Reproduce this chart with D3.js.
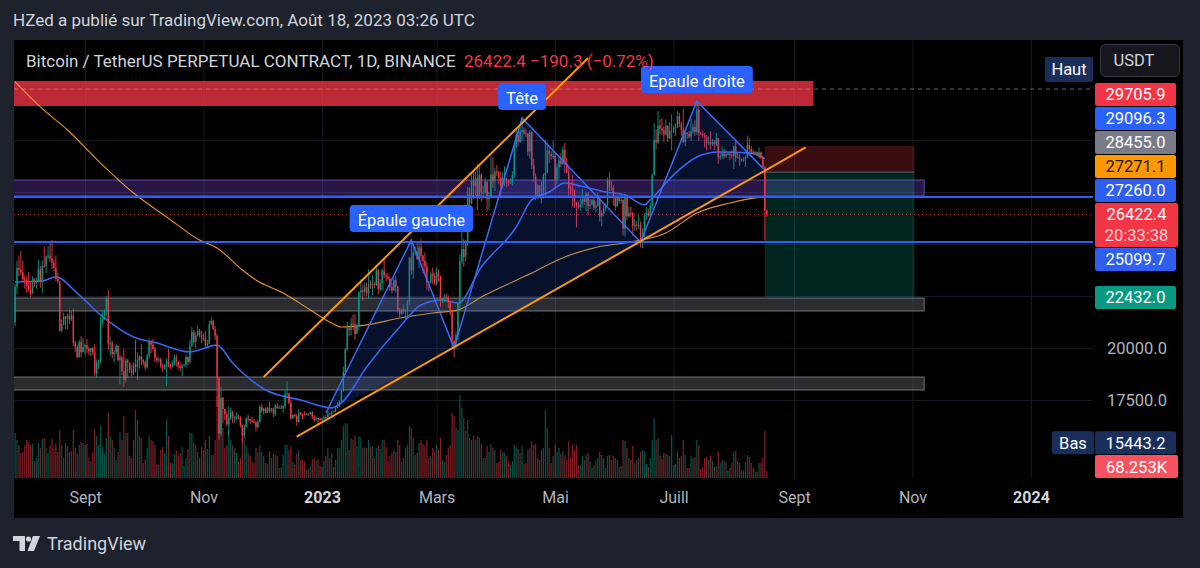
<!DOCTYPE html>
<html>
<head>
<meta charset="utf-8">
<script src="https://cdn.jsdelivr.net/npm/d3@7"></script>
<style>
  html, body { margin: 0; padding: 0; background: #1e222d; }
  svg { display: block; font-family: Roboto, "Noto Sans", sans-serif; }
</style>
</head>
<body>
<svg id="chart" width="1200" height="568"></svg>
<script>
// ---- data (BTCUSDT perp, daily) ----
const startDate = "2022-07-27";
const firstOpen = 21230;

const closes = [
  // Jul 27-31 2022
  22960,23850,23770,23640,23300,
  // Aug 2022
  23270,22980,22820,22620,23310,23170,23180,23800,23160,23950,23940,24400,24440,24300,24100,23850,23340,23200,20830,21140,21520,21400,21530,21370,21560,20240,20040,19550,20290,19800,20050,
  // Sep
  20130,19950,19830,19990,19800,18790,19290,19320,21360,21650,21830,22400,20170,20230,19700,19800,20110,19420,19540,18880,18480,19400,19300,18920,18800,19220,19080,19410,19590,19430,
  // Oct
  19310,19060,19630,20340,20160,19960,19530,19420,19450,19130,19060,19160,19380,19180,19070,19260,19550,19330,19120,19040,19160,19200,19570,19330,20090,20770,20290,20600,20820,20630,20490,
  // Nov
  20480,20150,20210,21140,21300,20900,20590,18540,15880,17590,17070,16810,16330,16620,16900,16660,16690,16700,16650,16280,15780,16220,16600,16590,16520,16460,16430,16210,16440,17170,
  // Dec
  16970,17090,16890,17110,16970,17090,16840,17230,17130,17130,17090,17210,17780,17810,17360,16630,16780,16740,16440,16900,16830,16820,16780,16840,16830,16920,16700,16550,16630,16600,16540,
  // Jan 2023
  16620,16680,16670,16850,16830,16950,16940,17120,17180,17440,17940,18850,19930,20950,20870,21180,21130,20680,21080,22670,22780,22710,22920,22630,23060,23010,23080,23030,23740,22830,23130,
  // Feb
  23730,23490,23430,23330,22930,22760,23250,22960,21800,21630,21860,21780,21780,22200,24320,23740,24570,24630,24280,24840,24440,24180,23930,23160,23150,23560,23490,23130,
  // Mar
  23630,23470,22350,22350,22430,22410,22200,21700,20360,20180,20620,22140,24180,24750,24380,25040,27420,26960,28030,27800,28170,27300,28330,27480,27480,28000,27150,27270,28350,28030,28470,
  // Apr
  28450,28200,27800,28170,28170,28030,27920,27950,28330,29650,30240,29900,30390,30480,30320,30310,29440,30390,28800,28250,27270,27820,27590,27510,28310,28420,29480,29320,29230,29230,
  // May
  28070,28680,29020,28850,29530,28900,28430,27670,27620,27600,26990,26800,26780,26910,27160,27030,27400,26830,26890,27110,26750,26850,27220,26330,26480,26720,26870,28080,27740,27700,27220,
  // Jun
  26820,27250,27080,27120,25740,27240,26340,26500,26480,25850,25940,25900,25920,25130,25580,26340,26510,26340,26850,28310,30000,29890,30690,30550,30470,30270,30690,30080,30450,30470,
  // Jul
  30590,30620,31160,30770,30500,29900,30350,30290,30170,30420,30620,30380,31460,30320,30290,30230,30140,29860,29900,29790,29900,29800,30080,29170,29230,29350,29220,29310,29350,29280,29230,
  // Aug 1-18
  29700,29170,29180,29090,29050,29050,29180,29770,29570,29430,29400,29420,29280,29400,29170,28700,26612.7,26422.4
];

const highs = [
  23100,24200,24450,24650,24200,
  23500,23450,23650,23200,23450,23350,23400,24250,23930,24200,24900,24450,24900,25050,25200,24250,24450,23600,23200,21380,21700,21520,21650,21850,21800,21880,20350,20150,20400,20570,20480,
  20200,20440,20050,20000,20050,20180,19450,19450,21500,21800,21850,22490,22800,20550,20350,19900,20200,20100,19680,19640,19950,19500,19480,19300,19180,19320,20380,19790,19650,20200,
  19480,19400,19720,20460,20370,20450,20050,19600,19550,19530,19260,19230,19520,19950,19230,19400,19680,19700,19360,19350,19250,19250,19690,19600,20400,21020,20870,20750,21080,20920,20840,
  20700,20800,20400,21300,21480,21370,21050,20670,18590,18150,17650,17080,16930,17190,17130,17000,16750,16900,16800,16720,16300,16300,16680,16800,16590,16690,16600,16480,16550,17250,
  17320,17100,17150,17200,17420,17110,17140,17300,17350,17230,17270,17240,18000,18390,17850,17530,16800,16860,16820,17060,16920,16870,16950,16860,16870,16940,16970,16780,16660,16630,16650,
  16630,16760,16770,16990,16880,16990,16960,17170,17400,17480,18000,19100,20000,21250,21000,21450,21600,21650,21200,22750,23300,23050,23150,23150,23800,23250,23500,23180,23950,23800,23300,
  23810,24250,23590,23580,23430,23150,23350,23450,22990,21930,21900,22090,21880,22300,24380,25250,25020,24880,25150,25100,25250,24480,24600,24120,23220,23680,23880,23600,
  23880,23780,23480,22400,22600,22600,22540,22270,21800,20360,20800,22180,24500,26500,25230,25200,27750,27730,28400,28500,28480,28840,28800,28400,27800,28200,28020,27500,29170,29170,28650,
  28800,28530,28480,28450,28750,28180,28100,28150,28500,29770,30550,30480,30620,31000,30600,30550,30320,30480,30400,29100,28380,27880,27820,28000,28400,30000,29880,29600,29450,29950,
  29350,28880,29260,29370,29680,29850,29150,28650,27820,28320,27630,27050,27030,27180,27650,27280,27480,27480,27180,27150,27250,27050,27480,27220,26620,26900,26950,28180,28440,28050,27830,
  27350,27300,27320,27450,27150,27350,27380,26800,26790,26540,26200,26100,26420,26080,25750,26480,26780,26680,26990,28400,30800,30500,31400,31000,31050,30650,31000,30700,30850,31250,
  30700,30800,31380,31320,30880,31500,30450,30380,30440,31050,30800,30970,31800,31640,30400,30450,30340,30240,30180,30420,30050,29990,30350,30100,29380,29690,29570,29530,29420,29450,29520,
  29750,30050,29400,29320,29110,29170,29250,30200,30120,29720,29550,29470,29450,29650,29450,29260,28780,26650
];

const lows = [
  21050,22600,23450,23500,23220,
  22850,22650,22700,22450,22600,22950,22850,23150,22900,22650,23850,23600,24300,24150,23800,23700,23200,23100,20800,20750,21080,20900,20900,21150,21300,20110,19800,19520,19550,19550,19800,
  19650,19750,19650,19600,19650,18650,18550,19000,19300,21120,21350,21560,19900,19650,19500,19300,19700,19350,18250,18700,18130,18350,18550,18800,18630,18680,18830,18470,19000,19170,
  19160,18920,19000,19500,19740,19860,19330,19260,19320,19030,18860,18970,18180,19070,18980,19060,19150,19100,19000,18900,18650,19110,19070,19160,19250,20060,20200,20000,20550,20500,20220,
  20340,20060,20030,20180,21080,20870,20390,17170,15590,15750,16360,16530,16250,15820,16540,16400,16400,16550,16560,16180,15443.2,15650,16170,16450,16350,16400,16400,15990,16110,16430,
  16860,16790,16860,16880,16880,16900,16680,16730,17080,17090,17070,16870,17080,17660,17280,16520,16580,16660,16260,16400,16740,16560,16760,16780,16720,16780,16600,16460,16500,16330,16480,
  16500,16550,16600,16660,16750,16670,16910,16910,17100,17150,17300,17900,18700,19880,20550,20600,20850,20400,20650,20850,22400,22300,22500,22480,22350,22850,22550,22880,22980,22560,22720,
  22770,23360,23200,23260,22750,22630,22750,22670,21700,21460,21600,21640,21350,21530,22050,23520,23330,24450,24240,23850,24150,23580,23600,22800,22720,23080,23100,23030,
  23020,23180,21980,22160,22200,22300,21930,21580,20050,19550,19930,20350,21900,24050,23900,24170,24900,26850,26900,27170,27350,26620,27150,27050,27170,27420,26550,26650,27200,27700,27550,
  28250,27880,27300,27670,27800,27750,27780,27870,27800,28170,29600,29700,29870,29950,30250,30130,29250,29100,28600,28000,27100,27150,27350,26950,27200,27250,28400,28900,29050,29100,
  27680,27880,28130,28700,28800,28400,28390,27330,27380,26800,26750,25800,26700,26600,26750,26870,26570,26400,26680,26860,26650,26530,26800,26080,25850,26330,26560,26820,27550,27550,26850,
  26600,26770,26950,26950,25400,25350,26140,26250,26300,25400,25640,25670,25730,24830,24800,25180,26180,26300,26280,26650,28290,29540,29800,30280,30260,29900,30200,29900,30050,29500,
  30330,30200,30570,30640,30200,29850,29700,30050,30070,29950,30300,30200,30250,29950,30250,30080,29650,29500,29750,29560,29720,29520,29700,28860,29050,29100,29100,29130,29250,29030,29100,
  28600,28950,29100,28750,28950,28950,28700,29120,29370,29320,29300,29350,29250,29100,29080,28700,25170,26300
];

// daily volume, thousands of BTC
const volumesK = [
  450,380,330,250,260,
  330,380,360,330,340,170,200,350,300,390,400,300,250,330,390,290,340,260,480,330,200,350,320,260,270,480,300,240,330,360,350,
  330,340,200,170,260,480,420,330,520,310,240,400,650,420,380,300,180,260,460,380,620,450,450,220,200,380,680,580,420,400,
  150,190,300,420,380,370,330,140,130,280,310,250,580,420,150,150,240,280,220,250,310,120,200,290,450,450,350,330,260,200,310,
  280,380,290,420,230,230,380,820,800,700,500,300,330,480,380,330,300,250,160,200,420,380,320,250,220,160,150,300,260,330,
  260,220,150,140,270,200,240,230,220,100,110,230,330,330,280,320,160,130,240,280,180,190,160,80,90,120,190,200,170,190,120,
  110,170,220,300,200,250,110,180,300,300,380,520,550,540,280,400,380,430,320,420,400,300,310,300,380,310,320,200,300,320,290,
  380,380,310,170,220,260,280,260,380,330,160,200,300,330,520,500,400,230,250,350,380,340,320,380,200,220,300,260,
  330,280,400,180,160,230,300,330,650,620,500,480,830,700,600,470,580,400,380,420,380,420,400,340,200,200,320,260,340,300,280,
  150,160,280,260,250,220,160,130,170,330,310,290,250,320,140,150,280,300,370,330,340,200,180,280,300,680,500,300,150,220,
  330,260,300,240,270,230,180,370,200,330,280,330,130,130,220,180,230,250,170,100,130,180,200,260,230,200,100,220,230,180,220,
  200,180,110,120,380,370,300,200,180,320,150,180,200,260,280,270,140,110,200,380,600,380,400,220,190,250,240,230,220,430,
  130,140,270,200,220,380,230,100,100,220,200,210,380,330,90,110,200,210,180,220,170,110,120,270,150,180,170,160,70,100,150,
  260,270,170,150,70,70,160,230,210,150,110,60,60,150,150,200,470,68.253
];

// moving averages
const maBlue = [
  ["2022-07-27",23170],["2022-08-10",23220],["2022-08-17",23410],["2022-08-28",22640],["2022-09-09",21590],
  ["2022-09-26",20530],["2022-10-08",20240],["2022-10-25",19810],["2022-11-08",20140],["2022-11-16",19280],
  ["2022-12-03",17980],["2022-12-21",17500],["2023-01-06",17120],["2023-01-11",17360],["2023-01-24",19090],
  ["2023-02-10",21010],["2023-02-21",22070],["2023-03-04",22310],["2023-03-12",22160],["2023-03-24",23890],
  ["2023-04-11",25820],["2023-04-19",27120],["2023-04-28",27500],["2023-05-06",27930],["2023-05-14",27790],
  ["2023-05-27",27500],["2023-06-06",27360],["2023-06-16",26880],["2023-06-19",27120],["2023-07-02",28410],
  ["2023-07-13",29180],["2023-07-24",29420],["2023-08-10",29370],["2023-08-17",29096.3]
];
const maOrange = [
  ["2022-07-27",32790],["2022-08-09",31590],["2022-08-23",30480],["2022-09-09",28890],["2022-09-26",27450],
  ["2022-10-13",26300],["2022-10-30",25190],["2022-11-08",24810],["2022-11-21",23750],["2022-11-28",23270],
  ["2022-12-12",22640],["2022-12-26",21830],["2023-01-06",21200],["2023-01-11",21010],["2023-01-24",21110],
  ["2023-02-10",21440],["2023-02-27",21680],["2023-03-12",21830],["2023-03-24",22450],["2023-04-19",23610],
  ["2023-05-06",24380],["2023-05-23",24860],["2023-06-09",25100],["2023-06-27",25530],["2023-07-13",26490],
  ["2023-07-30",26970],["2023-08-13",27230],["2023-08-17",27271.1]
];

// head & shoulders pattern vertices
const hsPoints = [
  ["2023-01-03",16875],["2023-02-16",25190],["2023-03-10",20000],["2023-04-14",31060],
  ["2023-06-14",25100],["2023-07-13",31870],["2023-08-17",28560]
];
const hsLabels = [[1,"Épaule gauche"],[3,"Tête"],[5,"Epaule droite"]];

// trend channel
const channelUpper = [["2022-12-02",18610],["2023-05-18",33940]];
const channelLower = [["2022-12-19",15740],["2023-09-07",29640]];

// zones: [end date, low price, high price, fill, stroke]
const zones = [
  ["2023-09-11",31635,32840,"rgba(242,54,69,0.78)",null],
  ["2023-11-07",27308,28077,"rgba(103,58,183,0.38)","rgba(140,100,210,0.7)"],
  ["2023-11-07",21779,22404,"rgba(120,123,134,0.36)","rgba(150,153,164,0.7)"],
  ["2023-11-07",17981,18606,"rgba(120,123,134,0.36)","rgba(150,153,164,0.7)"]
];

const hLines = [27260.0, 25099.7];
const position = {from: "2023-08-17", to: "2023-11-02", stop: 29705.9, entry: 28455.0, target: 22432.0};
const lastPrice = 26422.4, countdown = "20:33:38";
const highLevel = 32450, lowLevel = 15443.2;

const priceTicks = [17500, 20000, 22500, 25000, 27500, 30000];
const timeTicks = ["2022-09-01","2022-11-01","2023-01-01","2023-03-01","2023-05-01","2023-07-01","2023-09-01","2023-11-01","2024-01-01"];
const timeLabels = ["Sept","Nov","2023","Mars","Mai","Juill","Sept","Nov","2024"];

// ---- layout ----
const svg = d3.select("#chart");
const panel = {left: 14, top: 40, right: 1183, bottom: 518};
const plot = {left: 14, top: 40, right: 1093, bottom: 478};
const parse = d3.utcParse("%Y-%m-%d");

const x = d3.scaleUtc().domain([parse("2022-09-01"), parse("2023-09-01")]).range([85, 794]);
const y = d3.scaleLinear().domain([17500, 30000]).range([400, 140]);
const yVol = d3.scaleLinear().domain([0, 830]).range([plot.bottom, 395]);

const green = "#089981", red = "#f23645", blue = "#2962ff", orange = "#ff9800";
const labelSize = 16.5;

svg.append("rect").attr("width", 1200).attr("height", 568).attr("fill", "#1e222d");
svg.append("rect")
  .attr("x", panel.left).attr("y", panel.top)
  .attr("width", panel.right - panel.left).attr("height", panel.bottom - panel.top)
  .attr("fill", "#000");

svg.append("defs").append("clipPath").attr("id", "plotClip")
  .append("rect")
  .attr("x", plot.left).attr("y", plot.top)
  .attr("width", plot.right - plot.left).attr("height", plot.bottom - plot.top);

const g = svg.append("g").attr("clip-path", "url(#plotClip)");

// grid
g.append("g")
  .attr("transform", `translate(${plot.left},0)`)
  .call(d3.axisLeft(y).tickValues(priceTicks).tickSize(-(plot.right - plot.left)).tickFormat(""))
  .call(a => a.select(".domain").remove())
  .selectAll("line").attr("stroke", "#16191f");
g.append("g")
  .attr("transform", `translate(0,${plot.bottom})`)
  .call(d3.axisBottom(x).tickValues(timeTicks.map(parse)).tickSize(-(plot.bottom - plot.top)).tickFormat(""))
  .call(a => a.select(".domain").remove())
  .selectAll("line").attr("stroke", "#16191f");

// zones
zones.forEach(([end, lo, hi, fill, stroke]) => {
  g.append("rect")
    .attr("x", plot.left - 2).attr("y", y(hi))
    .attr("width", x(parse(end)) - plot.left + 2).attr("height", y(lo) - y(hi))
    .attr("fill", fill)
    .attr("stroke", stroke || "none").attr("stroke-width", 1);
});

// short position tool
const px0 = x(parse(position.from)), px1 = x(parse(position.to));
g.append("rect").attr("x", px0).attr("y", y(position.stop))
  .attr("width", px1 - px0).attr("height", y(position.entry) - y(position.stop))
  .attr("fill", "rgba(242,54,69,0.24)");
g.append("rect").attr("x", px0).attr("y", y(position.entry))
  .attr("width", px1 - px0).attr("height", y(position.target) - y(position.entry))
  .attr("fill", "rgba(8,153,129,0.24)");
g.append("line").attr("x1", px0).attr("x2", px1)
  .attr("y1", y(position.entry)).attr("y2", y(position.entry))
  .attr("stroke", "rgba(120,123,134,0.8)").attr("stroke-width", 1);

// candles data
const day0 = parse(startDate);
const candles = closes.map((c, i) => {
  const o = i ? closes[i - 1] : firstOpen;
  return {
    date: d3.utcDay.offset(day0, i), o, c,
    h: Math.max(highs[i], o, c), l: Math.min(lows[i], o, c), v: volumesK[i]
  };
});

// volume
g.append("g").selectAll("rect").data(candles).join("rect")
  .attr("x", d => x(d.date) - 0.6).attr("width", 1.2)
  .attr("y", d => yVol(d.v)).attr("height", d => plot.bottom - yVol(d.v))
  .attr("fill", d => d.c >= d.o ? "rgba(8,153,129,0.55)" : "rgba(242,54,69,0.55)");

// horizontal levels
g.append("line").attr("x1", plot.left).attr("x2", plot.right)
  .attr("y1", y(highLevel)).attr("y2", y(highLevel))
  .attr("stroke", "rgba(178,181,190,0.55)").attr("stroke-dasharray", "4 4");
g.append("line").attr("x1", plot.left).attr("x2", plot.right)
  .attr("y1", y(lastPrice)).attr("y2", y(lastPrice))
  .attr("stroke", "rgba(242,54,69,0.8)").attr("stroke-dasharray", "1 3");

// moving averages
const maLine = d3.line().curve(d3.curveMonotoneX).x(d => x(parse(d[0]))).y(d => y(d[1]));
g.append("path").attr("d", maLine(maOrange)).attr("fill", "none")
  .attr("stroke", "#f7a531").attr("stroke-width", 1.1).attr("opacity", 0.9);
g.append("path").attr("d", maLine(maBlue)).attr("fill", "none")
  .attr("stroke", "#3a64f0").attr("stroke-width", 1.6);

// candles
const cg = g.append("g");
cg.selectAll("line").data(candles).join("line")
  .attr("x1", d => x(d.date)).attr("x2", d => x(d.date))
  .attr("y1", d => y(d.h)).attr("y2", d => y(d.l))
  .attr("stroke", d => d.c >= d.o ? green : red).attr("stroke-width", 0.9);
cg.selectAll("rect").data(candles).join("rect")
  .attr("x", d => x(d.date) - 0.7).attr("width", 1.4)
  .attr("y", d => y(Math.max(d.o, d.c)))
  .attr("height", d => Math.max(1, Math.abs(y(d.o) - y(d.c))))
  .attr("fill", d => d.c >= d.o ? green : red);

// blue horizontal lines
hLines.forEach(p => {
  g.append("line").attr("x1", plot.left).attr("x2", plot.right)
    .attr("y1", y(p)).attr("y2", y(p))
    .attr("stroke", "#2f5ff0").attr("stroke-width", 2);
});

// head & shoulders
const hs = hsPoints.map(d => [x(parse(d[0])), y(d[1])]);
const hsFill = [...hs, hs[4], hs[2], hs[0]];
g.append("path").attr("d", d3.line()(hsFill) + "Z")
  .attr("fill", "rgba(41,98,255,0.17)").attr("stroke", "none");
g.append("path").attr("d", d3.line()(hs))
  .attr("fill", "none").attr("stroke", "#3d6af5").attr("stroke-width", 1.5);

// trend channel
[channelUpper, channelLower].forEach(seg => {
  g.append("path").attr("d", d3.line()(seg.map(d => [x(parse(d[0])), y(d[1])])))
    .attr("fill", "none").attr("stroke", orange).attr("stroke-width", 2);
});

// pattern labels
hsLabels.forEach(([i, txt]) => {
  const [vx, vy] = hs[i];
  const lg = svg.append("g");
  const t = lg.append("text").attr("x", vx).attr("y", vy - 14)
    .attr("text-anchor", "middle").attr("font-size", labelSize).attr("fill", "#fff").text(txt);
  const w = t.node().getComputedTextLength() + 16;
  lg.insert("rect", "text").attr("x", vx - w / 2).attr("y", vy - 35)
    .attr("width", w).attr("height", 27).attr("rx", 4).attr("fill", blue);
});

// header texts
svg.append("text").attr("x", 13).attr("y", 26).attr("font-size", 17).attr("fill", "#d1d4dc")
  .text("HZed a publié sur TradingView.com, Août 18, 2023 03:26 UTC");
svg.append("text").attr("x", 26).attr("y", 67).attr("font-size", 17).attr("fill", "#d1d4dc")
  .text("Bitcoin / TetherUS PERPETUAL CONTRACT, 1D, BINANCE");
svg.append("text").attr("x", 464).attr("y", 67).attr("font-size", 17).attr("fill", red)
  .text("26422.4  −190.3 (−0.72%)");

// time axis
const xAxis = svg.append("g")
  .attr("transform", `translate(0,${plot.bottom})`)
  .call(d3.axisBottom(x).tickValues(timeTicks.map(parse)).tickSize(0).tickPadding(14)
    .tickFormat((d, i) => timeLabels[i]));
xAxis.select(".domain").remove();
xAxis.selectAll("text")
  .attr("font-family", "Roboto, sans-serif").attr("font-size", 16)
  .attr("fill", (d, i) => /^\d/.test(timeLabels[i]) ? "#d1d4dc" : "#b2b5be")
  .attr("font-weight", (d, i) => /^\d/.test(timeLabels[i]) ? "bold" : "normal");

// price scale labels
const axisX0 = 1095, tagW = 81, tagH = 23;
function tag(cy, fill, color, lines, w) {
  const h = tagH + (lines.length - 1) * 21;
  svg.append("rect").attr("x", axisX0).attr("y", cy - tagH / 2)
    .attr("width", w || tagW).attr("height", h).attr("rx", 2).attr("fill", fill);
  lines.forEach((s, k) => {
    svg.append("text").attr("x", axisX0 + (w || tagW) / 2).attr("y", cy + 6 + k * 21)
      .attr("text-anchor", "middle").attr("font-size", labelSize)
      .attr("fill", k ? "rgba(255,255,255,0.78)" : color).text(s);
  });
}

// collision layout around the last-price tag
const above = [[27260.0, "#2f5ff0", "#fff"], [27271.1, orange, "#131722"], [28455.0, "#787b86", "#fff"],
  [29096.3, blue, "#fff"], [29705.9, red, "#fff"]];
const below = [[25099.7, "#2f5ff0", "#fff"], [22432.0, green, "#fff"]];
const lastY = y(lastPrice);
const placed = [];
let limit = lastY - tagH / 2 - 1;
above.forEach(([p, f, c]) => {
  const cy = Math.min(y(p), limit - tagH / 2);
  placed.push([cy, f, c, p]);
  limit = cy - tagH / 2 - 1;
});
let floor = lastY - tagH / 2 + tagH + 21 + 1;
below.forEach(([p, f, c]) => {
  const cy = Math.max(y(p), floor + tagH / 2);
  placed.push([cy, f, c, p]);
  floor = cy + tagH / 2 + 1;
});

// axis tick labels that do not collide with tags
const boxes = placed.map(d => [d[0] - tagH / 2, d[0] + tagH / 2]).concat([[lastY - tagH / 2, lastY + tagH / 2 + 21]]);
const yAxis = svg.append("g")
  .attr("transform", `translate(${axisX0},0)`)
  .call(d3.axisRight(y).tickValues(priceTicks.filter(t => !boxes.some(b => y(t) > b[0] - 8 && y(t) < b[1] + 8)))
    .tickSize(0).tickPadding(12).tickFormat(d3.format(".1f")));
yAxis.select(".domain").remove();
yAxis.selectAll("text").attr("font-family", "Roboto, sans-serif").attr("font-size", labelSize).attr("fill", "#b2b5be");

placed.forEach(([cy, f, c, p]) => tag(cy, f, c, [p.toFixed(1)]));
tag(lastY, red, "#fff", [lastPrice.toFixed(1), countdown], 83);

// low / high / volume tags
const navy = "#1a2e5c";
tag(y(lowLevel), navy, "#fff", [lowLevel.toFixed(1)]);
svg.append("rect").attr("x", 1052).attr("y", y(lowLevel) - tagH / 2).attr("width", 42).attr("height", tagH).attr("rx", 2).attr("fill", navy);
svg.append("text").attr("x", 1073).attr("y", y(lowLevel) + 6).attr("text-anchor", "middle")
  .attr("font-size", labelSize).attr("fill", "#fff").text("Bas");
const lastVol = volumesK[volumesK.length - 1];
tag(Math.min(yVol(lastVol), plot.bottom - tagH / 2), "#f7525f", "#fff", [lastVol.toFixed(3) + "K"], 83);

svg.append("rect").attr("x", 1045).attr("y", 57).attr("width", 48).attr("height", 25).attr("rx", 2).attr("fill", navy);
svg.append("text").attr("x", 1069).attr("y", 75).attr("text-anchor", "middle")
  .attr("font-size", labelSize).attr("fill", "#fff").text("Haut");

// currency button
svg.append("rect").attr("x", 1100.5).attr("y", 44.5).attr("width", 79).attr("height", 32).attr("rx", 5)
  .attr("fill", "#15171d").attr("stroke", "#363a45");
svg.append("text").attr("x", 1134).attr("y", 66).attr("text-anchor", "middle")
  .attr("font-size", labelSize).attr("fill", "#d1d4dc").text("USDT");

// footer logo
const logo = svg.append("g").attr("fill", "#d1d4dc");
logo.append("path").attr("d", "M13 536 H25 V551 H19.5 V541 H13 Z");
logo.append("circle").attr("cx", 28.5).attr("cy", 539).attr("r", 2.6);
logo.append("path").attr("d", "M33 536 H40 L34 551 H27.5 Z");
svg.append("text").attr("x", 47).attr("y", 550).attr("font-size", 18).attr("fill", "#d1d4dc").text("TradingView");
</script>
</body>
</html>
